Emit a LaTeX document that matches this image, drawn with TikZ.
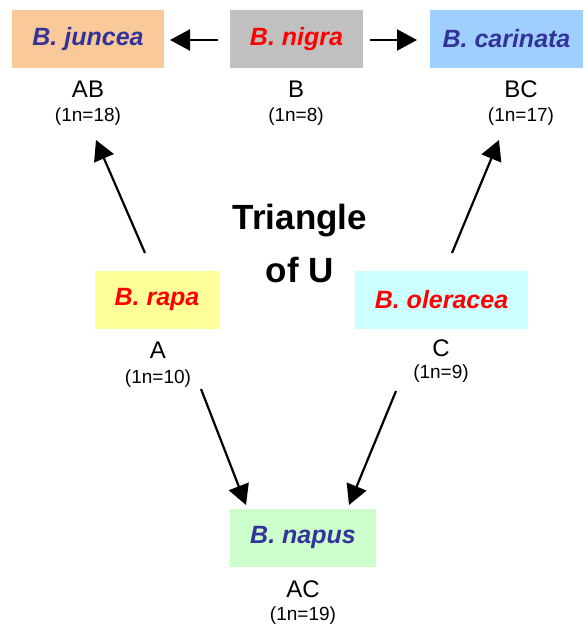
\documentclass[tikz,border=0pt]{standalone}
\usepackage{fontspec}
\setmainfont{Liberation Sans}
\usetikzlibrary{arrows.meta}
\definecolor{cjun}{HTML}{F9C99A}
\definecolor{cnig}{HTML}{C0C0C0}
\definecolor{ccar}{HTML}{9FCFFF}
\definecolor{crap}{HTML}{FFFF99}
\definecolor{cole}{HTML}{CCFFFF}
\definecolor{cnap}{HTML}{CCFFCC}
\definecolor{tblue}{HTML}{333399}
\definecolor{tred}{HTML}{FF0000}
\begin{document}
\begin{tikzpicture}[x=1pt,y=-1pt,
  species/.style={minimum height=58pt,inner sep=0pt,font=\fontsize{25}{28}\selectfont\bfseries\itshape},
  glabel/.style={inner sep=0pt,font=\fontsize{24}{26}\selectfont},
  nlabel/.style={inner sep=0pt,font=\fontsize{19}{22}\selectfont},
  arr/.style={line width=2.2pt,-{Triangle[length=20pt,width=21pt]}}]
\useasboundingbox (0,0) rectangle (587,631);
\node[species,fill=cjun,text=tblue,minimum width=152pt] (jun) at (88,39) {B. juncea};
\node[species,fill=cnig,text=tred,minimum width=133pt] (nig) at (296.5,39) {B. nigra};
\node[species,fill=ccar,text=tblue,minimum width=153pt] (car) at (506.5,39) {B. carinata};
\node[species,fill=crap,text=tred,minimum width=124pt] (rap) at (157,299.5) {B. rapa};
\node[species,fill=cole,text=tred,minimum width=173pt] (ole) at (441.5,299.5) {B. oleracea};
\node[species,fill=cnap,text=tblue,minimum width=146pt] (nap) at (303,537.5) {B. napus};
\node[glabel] (gab) at (88,89) {AB};
\node[nlabel] (nab) at (88,117) {(1n=18)};
\node[glabel] (gb) at (296,89) {B};
\node[nlabel] (nb) at (296,117) {(1n=8)};
\node[glabel] (gbc) at (521,89) {BC};
\node[nlabel] (nbc) at (521,117) {(1n=17)};
\node[glabel] (ga) at (158,350) {A};
\node[nlabel] (na) at (158,379) {(1n=10)};
\node[glabel] (gc) at (441,348) {C};
\node[nlabel] (nc) at (441,374) {(1n=9)};
\node[glabel] (gac) at (303,589) {AC};
\node[nlabel] (nac) at (303,616) {(1n=19)};
\node[align=center,inner sep=0pt,font=\fontsize{35}{53}\selectfont\bfseries] (tri) at (300,243) {Triangle\\of U};
\coordinate (p1) at (218,40); \coordinate (p2) at (170,40);
\coordinate (p3) at (370,40); \coordinate (p4) at (417,40);
\coordinate (p5) at (145,253); \coordinate (p6) at (96,140);
\coordinate (p7) at (452,253); \coordinate (p8) at (499,140);
\coordinate (p9) at (201,389); \coordinate (p10) at (246,505);
\coordinate (p11) at (396,391); \coordinate (p12) at (349,505);
\draw[arr] (p1) -- (p2);
\draw[arr] (p3) -- (p4);
\draw[arr] (p5) -- (p6);
\draw[arr] (p7) -- (p8);
\draw[arr] (p9) -- (p10);
\draw[arr] (p11) -- (p12);
\end{tikzpicture}
\end{document}
